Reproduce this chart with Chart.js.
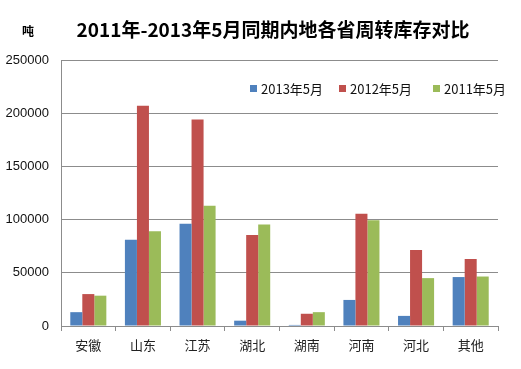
<!DOCTYPE html>
<html><head><meta charset="utf-8">
<script src="https://cdn.jsdelivr.net/npm/chart.js@4"></script>
<style>html,body{margin:0;padding:0;background:#fff;}#wrap{width:521px;height:369px;}</style>
</head><body><div id="wrap"><canvas id="c" width="521" height="369"></canvas></div>
<script>
const categories = ['安徽','山东','江苏','湖北','湖南','河南','河北','其他'];
const seriesNames = ['2013年5月','2012年5月','2011年5月'];
const values2013 = [13000, 81000, 96000, 5000, 1000, 24500, 9500, 46000];
const values2012 = [30000, 207000, 194000, 85500, 11500, 105500, 71500, 63000];
const values2011 = [28500, 89000, 113000, 95500, 13000, 99500, 45000, 46500];
const yTicks = [0, 50000, 100000, 150000, 200000, 250000];
const colors = ['#4F81BD', '#C0504D', '#9BBB59'];
const titleText = '2011年-2013年5月同期内地各省周转库存对比';
const unitText = '吨';
const CJK = '"Noto Sans CJK SC", "Noto Sans", sans-serif';

const overlay = {
  id: 'overlay',
  afterDraw(chart) {
    const ctx = chart.ctx;
    ctx.save();
    ctx.fillStyle = '#000';
    ctx.textBaseline = 'middle';
    ctx.textAlign = 'center';
    ctx.font = 'bold 19px ' + CJK;
    ctx.fillText(titleText, 273, 30);
    ctx.font = 'bold 12px ' + CJK;
    ctx.fillText(unitText, 28, 31);
    // legend
    ctx.font = '13px ' + CJK;
    ctx.textAlign = 'left';
    const xs = [250, 339, 433];
    chart.data.datasets.forEach((ds, i) => {
      ctx.fillStyle = ds.backgroundColor;
      ctx.fillRect(xs[i], 85, 7, 7);
      ctx.fillStyle = '#111';
      ctx.fillText(ds.label, xs[i] + 11, 89);
    });
    ctx.restore();
  }
};

new Chart(document.getElementById('c'), {
  type: 'bar',
  data: {
    labels: categories,
    datasets: [values2013, values2012, values2011].map((v, i) => ({
      label: seriesNames[i], data: v, backgroundColor: colors[i],
      categoryPercentage: 0.66, barPercentage: 1.0, borderWidth: 0
    }))
  },
  options: {
    responsive: false, animation: false,
    layout: { padding: { left: 0, right: 23, top: 60, bottom: 0 } },
    plugins: { legend: { display: false }, title: { display: false }, tooltip: { enabled: false } },
    scales: {
      x: {
        afterFit(s) { s.height = 43; },
        grid: { offset: true, drawOnChartArea: false, drawTicks: true, tickLength: 5, color: '#8c8c8c' },
        border: { color: '#8c8c8c' },
        ticks: { color: '#222', font: { family: CJK, size: 13 }, padding: 6 }
      },
      y: {
        min: 0, max: 250000,
        afterFit(s) { s.width = 61; },
        afterBuildTicks(s) { s.ticks = yTicks.map(v => ({ value: v })); },
        grid: { color: '#8c8c8c', drawTicks: false },
        border: { color: '#8c8c8c' },
        ticks: { color: '#111', font: { family: '"Liberation Sans", Arial, sans-serif', size: 13 }, padding: 12,
                 callback: v => String(v) }
      }
    }
  },
  plugins: [overlay]
});
</script></body></html>
